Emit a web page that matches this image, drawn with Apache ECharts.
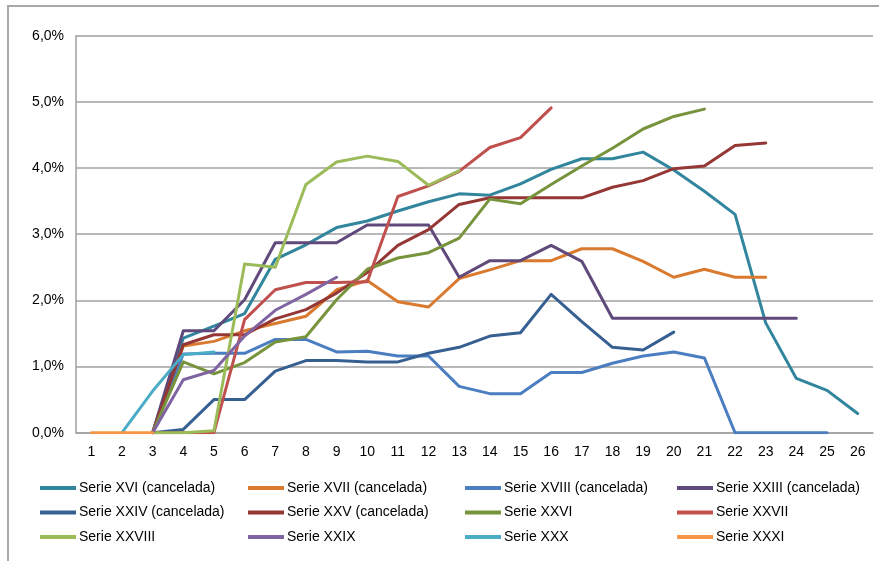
<!DOCTYPE html>
<html>
<head>
<meta charset="utf-8">
<script src="https://cdn.jsdelivr.net/npm/echarts@6/dist/echarts.min.js"></script>
<style>
html,body{margin:0;padding:0;background:#fff;}
#chart{width:879px;height:561px;}
</style>
</head>
<body>
<div id="chart"></div>
<script>
var categories = ['1','2','3','4','5','6','7','8','9','10','11','12','13','14','15','16','17','18','19','20','21','22','23','24','25','26'];
var yTicks = [0,1,2,3,4,5,6];

var serieXVI    = [null,null,0,1.43,1.61,1.80,2.62,2.84,3.10,3.20,3.35,3.49,3.61,3.59,3.76,3.98,4.14,4.14,4.24,3.97,3.65,3.30,1.66,0.82,0.64,0.29];
var serieXVII   = [null,null,0,1.31,1.38,1.54,1.65,1.76,2.16,2.30,1.98,1.90,2.33,2.46,2.60,2.60,2.78,2.78,2.59,2.35,2.47,2.35,2.35];
var serieXVIII  = [null,null,0,1.19,1.20,1.20,1.41,1.41,1.22,1.23,1.16,1.16,0.70,0.59,0.59,0.91,0.91,1.05,1.16,1.22,1.13,0,0,0,0];
var serieXXIII  = [null,null,0,1.54,1.54,2.01,2.87,2.87,2.87,3.14,3.14,3.14,2.35,2.60,2.60,2.83,2.59,1.73,1.73,1.73,1.73,1.73,1.73,1.73];
var serieXXIV   = [null,null,0,0.05,0.50,0.50,0.93,1.09,1.09,1.07,1.07,1.20,1.29,1.46,1.51,2.09,1.68,1.29,1.25,1.52];
var serieXXV    = [null,null,0,1.33,1.48,1.48,1.72,1.86,2.11,2.42,2.83,3.07,3.45,3.55,3.55,3.55,3.55,3.71,3.81,3.99,4.03,4.34,4.38];
var serieXXVI   = [null,null,0,1.07,0.89,1.06,1.37,1.45,2.01,2.47,2.64,2.72,2.94,3.53,3.46,3.75,4.03,4.30,4.59,4.78,4.89];
var serieXXVII  = [null,null,0,0,0,1.71,2.16,2.27,2.27,2.28,3.57,3.73,3.95,4.31,4.46,4.91];
var serieXXVIII = [null,null,0,0,0.03,2.55,2.50,3.75,4.09,4.18,4.10,3.74,3.96];
var serieXXIX   = [null,null,0,0.80,0.94,1.46,1.85,2.09,2.35];
var serieXXX    = [null,0,0.63,1.18,1.22];
var serieXXXI   = [0,0,0];

var names = ['Serie XVI (cancelada)','Serie XVII (cancelada)','Serie XVIII (cancelada)','Serie XXIII (cancelada)',
             'Serie XXIV (cancelada)','Serie XXV (cancelada)','Serie XXVI','Serie XXVII',
             'Serie XXVIII','Serie XXIX','Serie XXX','Serie XXXI'];
var values = [serieXVI,serieXVII,serieXVIII,serieXXIII,serieXXIV,serieXXV,serieXXVI,serieXXVII,serieXXVIII,serieXXIX,serieXXX,serieXXXI];
var colors = ['#31859C','#D97A2F','#4A7EC1','#604A7B','#376092','#953735','#77933C','#C0504D','#9BBB59','#8064A2','#4BACC6','#F79646'];

var FONT = '"Liberation Sans", Arial, sans-serif';
var chart = echarts.init(document.getElementById('chart'), null, {renderer:'canvas'});

var series = names.map(function(n,i){
  return {
    name: n, type: 'line', data: values[i], symbol: 'none', showSymbol: false,
    connectNulls: false, animation: false,
    lineStyle: {color: colors[i], width: 3, join: 'round', cap: 'round'},
    itemStyle: {color: colors[i]}
  };
});

var colLeft = [40, 248, 465, 677];
var legends = colLeft.map(function(l, c){
  return {
    orient: 'vertical', left: l, top: 481, itemGap: 10.5,
    itemWidth: 36, itemHeight: 4, icon: 'rect',
    data: [names[c], names[c+4], names[c+8]],
    textStyle: {fontFamily: FONT, fontSize: 14, color: '#000', lineHeight: 14, padding: [0,0,0,-2]},
    selectedMode: false, padding: 0
  };
});

chart.setOption({
  animation: false,
  color: colors,
  grid: {left: 76, right: 6, top: 35.7, bottom: 128.3, containLabel: false},
  graphic: [
    {type: 'polyline', shape: {points: [[8, 600], [8, 6], [900, 6]]}, style: {stroke: '#A8A8A8', lineWidth: 2, fill: null}, silent: true}
  ],
  legend: legends,
  xAxis: {
    type: 'category', data: categories, boundaryGap: true,
    axisLine: {show: true, lineStyle: {color: '#A0A0A0', width: 1.5}},
    axisTick: {show: false},
    axisLabel: {fontFamily: FONT, fontSize: 14, color: '#000', margin: 12, interval: 0}
  },
  yAxis: {
    type: 'value', min: yTicks[0], max: yTicks[yTicks.length-1], interval: 1,
    axisLine: {show: true, lineStyle: {color: '#A0A0A0', width: 1.5}},
    axisTick: {show: false},
    splitLine: {show: true, lineStyle: {color: '#A0A0A0', width: 1.5}},
    axisLabel: {fontFamily: FONT, fontSize: 14, color: '#000', margin: 12,
      formatter: function(v){ return v.toFixed(1).replace('.', ',') + '%'; }}
  },
  series: series
});
</script>
</body>
</html>
